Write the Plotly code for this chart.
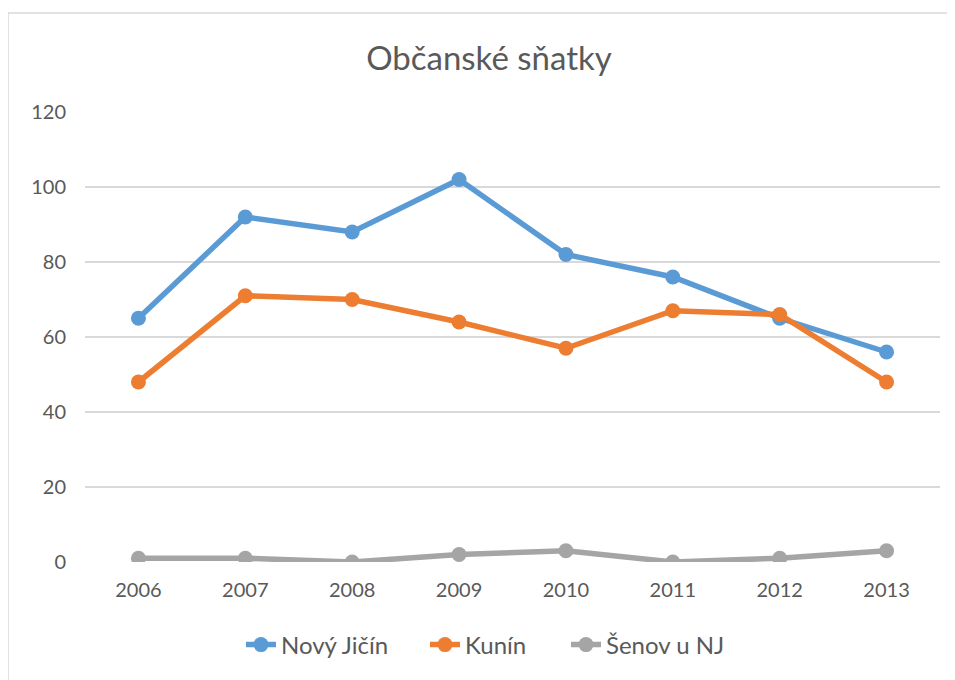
import plotly.graph_objects as go

years = ["2006", "2007", "2008", "2009", "2010", "2011", "2012", "2013"]
novy_jicin = [65, 92, 88, 102, 82, 76, 65, 56]
kunin = [48, 71, 70, 64, 57, 67, 66, 48]
senov = [1, 1, 0, 2, 3, 0, 1, 3]

series = [
    ("Nový Jičín", novy_jicin, "#5B9BD5"),
    ("Kunín", kunin, "#ED7D31"),
    ("Šenov u NJ", senov, "#A5A5A5"),
]
legend_left_px = [241, 425, 566]

font_family = "Lato, 'Open Sans', sans-serif"
fig = go.Figure()
legend_ids = ["legend", "legend2", "legend3"]
for (name, vals, color), lid in zip(series, legend_ids):
    fig.add_trace(go.Scatter(
        x=years, y=vals, name=name, mode="lines+markers",
        line=dict(color=color, width=5.5),
        marker=dict(color=color, size=15),
        legend=lid,
    ))

OFF = 8  # page body margin
W, H = 955, 680
# desired page-coordinate plot area
PL, PR, PT, PB = 85, 940, 112, 562
L, T = PL - OFF, PT - OFF
R = (W + OFF) - PR
B = (H + OFF) - PB
pw, ph = PR - PL, PB - PT

def px(xp):
    return (xp - PL) / pw

def py(yp):
    return (PB - yp) / ph

legend_common = dict(orientation="h", xanchor="left", yanchor="middle",
                     y=py(645), font=dict(size=24, color="#595959"),
                     itemwidth=30, bgcolor="rgba(0,0,0,0)")

fig.update_layout(
    width=W, height=H,
    margin=dict(l=L, r=R, t=T, b=B),
    paper_bgcolor="white", plot_bgcolor="white",
    font=dict(family=font_family, color="#595959", size=20),
    title=dict(text="Občanské sňatky", x=px(489), xanchor="center",
               xref="paper", y=1 - (58 - OFF) / H, yanchor="middle",
               font=dict(size=33, color="#595959", family=font_family)),
    xaxis=dict(type="category", range=[-0.5, 7.5], showgrid=False,
               showline=False, ticks="", tickfont=dict(size=20),
               zeroline=False, ticklabelstandoff=14),
    yaxis=dict(range=[0, 120], dtick=20, showgrid=True, gridcolor="#D9D9D9",
               gridwidth=2, zeroline=False, showline=False, ticks="",
               tickfont=dict(size=20), ticklabelstandoff=18),
    legend=dict(x=px(legend_left_px[0]), **legend_common),
    legend2=dict(x=px(legend_left_px[1]), **legend_common),
    legend3=dict(x=px(legend_left_px[2]), **legend_common),
    showlegend=True,
)

fig.add_shape(type="rect", xref="paper", yref="paper",
              x0=px(8), x1=px(975),
              y0=py(700), y1=py(13),
              line=dict(color="#D9D9D9", width=1.5), layer="below")

fig.write_html("out.html")
